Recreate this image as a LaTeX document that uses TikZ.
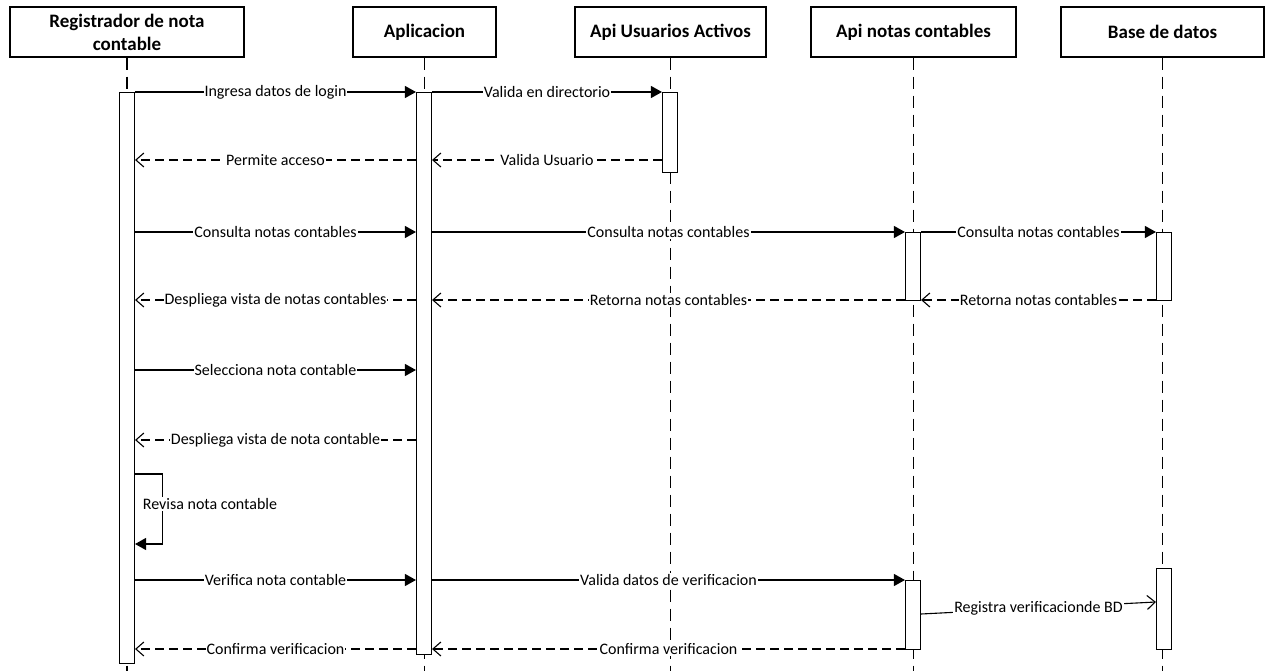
\documentclass[tikz,border=0pt]{standalone}
\usepackage{fontspec}
\setmainfont{Carlito}
\usetikzlibrary{arrows.meta}

\begin{document}
\begin{tikzpicture}[x=1pt, y=-1pt,
    actor/.style={draw, line width=1.1pt, minimum height=50pt, inner sep=1pt,
      align=center, font=\bfseries\fontsize{19}{23}\selectfont},
    bar/.style={draw, fill=white, line width=1.1pt, minimum width=15pt,
      inner sep=0pt, anchor=north},
    call/.style={line width=1.1pt, -{Triangle[length=11pt, width=12pt]}},
    reply/.style={line width=1.1pt, dash pattern=on 9pt off 5pt,
      -{Straight Barb[length=8pt, width=14pt]}},
    asynch/.style={line width=1.1pt, -{Straight Barb[length=8pt, width=14pt]}},
    msg/.style={fill=white, inner sep=1pt, font=\fontsize{16}{19}\selectfont},
    life/.style={line width=1.1pt, dash pattern=on 12pt off 7pt}]

  \useasboundingbox (0,0) rectangle (1265,671);

  % participants and lifelines
  \foreach \name/\x/\w/\txt in {
      reg/127/234/{Registrador de nota\\contable},
      app/424.5/143/{Aplicacion},
      apiu/670.5/191/{Api Usuarios Activos},
      apin/913.5/205/{Api notas contables},
      bd/1162.5/203/{Base de datos}} {
    \node[actor, minimum width=\w pt] (\name) at (\x,32) {\txt};
    \coordinate (\name-end) at (\x,671);
    \draw[life] (\name.south) -- (\name-end);
  }

  % activations
  \node[bar, minimum height=571pt] (r1) at (127,92) {};
  \node[bar, minimum height=562pt] (a1) at (424,92) {};
  \node[bar, minimum height=80pt] (u1) at (670,92) {};
  \node[bar, minimum height=68pt] (n1) at (913,232) {};
  \node[bar, minimum height=68pt] (d1) at (1164,232) {};
  \node[bar, minimum height=69pt] (n2) at (913,580) {};
  \node[bar, minimum height=81pt] (d2) at (1164,568) {};

  % login
  \draw[call] (r1.east |- 0,92) -- node[msg] {Ingresa datos de login} (a1.west |- 0,92);
  \draw[call] (a1.east |- 0,92) -- node[msg] {Valida en directorio} (u1.west |- 0,92);
  \draw[reply] (u1.west |- 0,160) -- node[msg] {Valida Usuario} (a1.east |- 0,160);
  \draw[reply] (a1.west |- 0,160) -- node[msg] {Permite acceso} (r1.east |- 0,160);

  % consulta
  \draw[call] (r1.east |- 0,232) -- node[msg] {Consulta notas contables} (a1.west |- 0,232);
  \draw[call] (a1.east |- 0,232) -- node[msg] {Consulta notas contables} (n1.west |- 0,232);
  \draw[call] (n1.east |- 0,232) -- node[msg] {Consulta notas contables} (d1.west |- 0,232);
  \draw[reply] (d1.west |- 0,300) -- node[msg] {Retorna notas contables} (n1.east |- 0,300);
  \draw[reply] (n1.west |- 0,300) -- node[msg] {Retorna notas contables} (a1.east |- 0,300);
  \draw[reply] (a1.west |- 0,300) -- node[msg] {Despliega vista de notas contables} (r1.east |- 0,300);

  % seleccion
  \draw[call] (r1.east |- 0,370) -- node[msg] {Selecciona nota contable} (a1.west |- 0,370);
  \draw[reply] (a1.west |- 0,440) -- node[msg] {Despliega vista de nota contable} (r1.east |- 0,440);
  \draw[call] (r1.east |- 0,474) -- ++(27,0) -- ++(0,70) -- (r1.east |- 0,544);
  \node[msg] (rev) at (210,504) {Revisa nota contable};

  % verificacion
  \draw[call] (r1.east |- 0,580) -- node[msg] {Verifica nota contable} (a1.west |- 0,580);
  \draw[call] (a1.east |- 0,580) -- node[msg] {Valida datos de verificacion} (n2.west |- 0,580);
  \draw[asynch] (n2.east |- 0,614) -- node[msg] {Registra verificacionde BD} (d2.west |- 0,602);
  \draw[reply] (n2.west |- 0,649) -- node[msg] {Confirma verificacion} (a1.east |- 0,649);
  \draw[reply] (a1.west |- 0,649) -- node[msg] {Confirma verificacion} (r1.east |- 0,649);
\end{tikzpicture}
\end{document}
